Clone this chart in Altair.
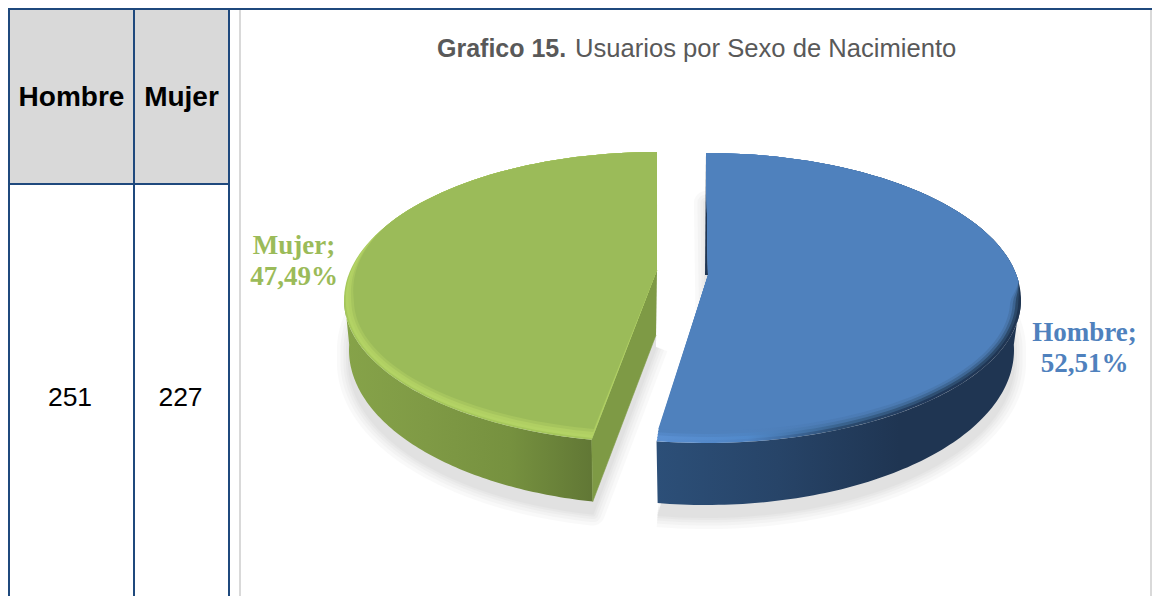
import numpy as np
import pandas as pd
import altair as alt

categories = ["Hombre", "Mujer"]
counts = [251, 227]
shares = [52.51, 47.49]
chart_title = ["Grafico 15.", "Usuarios por Sexo de Nacimiento"]

W, H = 1144, 588
X_SCALE = alt.Scale(domain=[8, 8 + W], range=[0, W])
Y_SCALE = alt.Scale(domain=[8, 8 + H], range=[0, H])
BLUE, GREEN = "#4F81BD", "#9BBB59"
DARK = "#1F497D"


def grad(*stops):
    n = len(stops) - 1
    return alt.Gradient(
        gradient="linear", x1=0, x2=1, y1=0, y2=0,
        stops=[alt.GradientStop(offset=i / n, color=c) for i, c in enumerate(stops)],
    )


def arc(ex, ey, a, b_up, b_low, t0, t1, inset=0, start=0.45):
    t = np.radians(np.linspace(t0, t1, 90))
    c, s = np.cos(t), np.sin(t)
    taper = np.clip((-c + start) / max(start, 0.01), 0, 1) if inset else np.zeros_like(c)
    xs = ex + (a - inset * 0.9 * taper) * s
    ys = ey + np.where(c > 0, -b_up * c, (b_low - inset * taper) * (-c))
    return list(zip(xs, ys))


def poly(points, **mark):
    df = pd.DataFrame(points, columns=["x", "y"]).reset_index()
    mark.setdefault("strokeWidth", 0)
    return alt.Chart(df).mark_line(**mark).encode(
        x=alt.X("x:Q", scale=X_SCALE, axis=None),
        y=alt.Y("y:Q", scale=Y_SCALE, axis=None),
        order="index:Q",
    )


blue_end = shares[0] / 100 * 360
green_start = blue_end + 3

blue_apex, green_apex = (708, 275), (657, 270)
blue_top = dict(ex=706, ey=300, a=315, b_up=147, b_low=143)
green_top = dict(ex=657, ey=300, a=313, b_up=148, b_low=143)
blue_bot = dict(ex=706, ey=350, a=308, b_up=147, b_low=155)
green_bot = dict(ex=657, ey=350, a=308, b_up=147, b_low=155)
DROP = 12

layers = []
for width in [24, 17, 11, 6, 2]:
    for apex, bot, t0, t1 in [
        ((708, 335), blue_bot, 0, blue_end),
        ((656, 335), green_bot, green_start, 360),
    ]:
        pts = [(apex[0], apex[1] + DROP)] + [
            (x, y + (DROP if y > 350 else 0)) for x, y in arc(t0=t0, t1=t1, **bot)
        ]
        layers.append(poly(pts, fill="#000000", stroke="#000000", strokeWidth=width,
                           strokeJoin="round", opacity=0.02))

layers.append(poly(
    arc(t0=green_start, t1=272, **green_top) + arc(t0=272, t1=green_start, **green_bot),
    fill=grad("#86A349", "#7F9A45", "#76913F", "#617735"),
))
layers.append(poly(
    arc(t0=88, t1=blue_end, **blue_top) + arc(t0=blue_end, t1=88, **blue_bot),
    fill=grad("#2C4F78", "#274468", "#1F3552", "#1F3552"),
))

grim = arc(t0=green_start, t1=green_start, **green_top)[0]
gbot = arc(t0=green_start, t1=green_start, **green_bot)[0]
layers.append(poly([green_apex, grim, gbot, (656, 335)], fill="#7E9A45",
                   stroke="#7E9A45", strokeWidth=0.6))
layers.append(poly([(706, 153), (708, 275), (705, 275)], fill="#1F3552"))

blue_bands = [
    (0, grad("#5B90D2", "#4F84C4", "#2C4C70", "#20385A", "#1F3552")),
    (3, grad("#5B90D2", "#5189CA", "#3A6490", "#2F5074", "#2B4868")),
    (6, grad("#5488C8", "#4F84C2", "#4674A8", "#3F6998", "#3C6390")),
    (9, grad("#4F81BD", "#4F81BD", "#4C7CB6", "#4A79B0", "#4976AC")),
]
for inset, fill in blue_bands:
    layers.append(poly([blue_apex] + arc(t0=0, t1=blue_end, inset=inset, start=0.12, **blue_top),
                       fill=fill))
layers.append(poly([blue_apex] + arc(t0=0, t1=blue_end, inset=12, start=0.12, **blue_top), fill=BLUE))

green_bands = [(0, "#A6C85C"), (2, "#B3D365"), (5, "#B0CF63"), (8, "#A6C55E")]
for inset, color in green_bands:
    layers.append(poly([green_apex] + arc(t0=green_start, t1=360, inset=inset, start=0.5, **green_top),
                       fill=color))
layers.append(poly([green_apex] + arc(t0=green_start, t1=360, inset=11, start=0.5, **green_top), fill=GREEN))


def box(x0, x1, y0, y1, color):
    return alt.Chart(pd.DataFrame({"k": [0]})).mark_rect(color=color).encode(
        x=alt.value(x0 - 8), x2=alt.value(x1 - 8), y=alt.value(y0 - 8), y2=alt.value(y1 - 8)
    )


BOTTOM = 8 + H
RIGHT = 8 + W
table = [
    box(10, 228, 10, 183, "#D9D9D9"),
    box(8, 10, 8, BOTTOM, DARK),
    box(133, 135, 8, BOTTOM, DARK),
    box(228, 230, 8, BOTTOM, DARK),
    box(8, 230, 183, 185, DARK),
    box(8, RIGHT, 8, 10, DARK),
    box(239, 241, 10, BOTTOM, "#D9D9D9"),
    box(1150, 1152, 10, BOTTOM, "#D9D9D9"),
]


def text(s, x, y, size, color, bold=False, align="center", font="Liberation Sans", lh=None):
    mark = dict(fontSize=size, font=font, color=color, align=align, baseline="alphabetic",
                fontWeight="bold" if bold else "normal")
    if lh:
        mark.update(lineHeight=lh, lineBreak="\n")
    return alt.Chart(pd.DataFrame({"t": [s]})).mark_text(**mark).encode(
        text="t:N", x=alt.value(x - 8), y=alt.value(y - 8)
    )


def share_label(name, v):
    return f"{name};\n{v:.2f}%".replace(".", ",")


texts = [
    text(categories[0], 71.5, 106, 28, "#000000", bold=True),
    text(categories[1], 181.5, 106, 28, "#000000", bold=True),
    text(str(counts[0]), 70, 406, 26.5, "#000000"),
    text(str(counts[1]), 180.5, 406, 26.5, "#000000"),
    text(chart_title[0], 437, 57, 25, "#595959", bold=True, align="left"),
    text(chart_title[1], 575, 57, 25.6, "#595959", align="left"),
    text(share_label(categories[1], shares[1]), 294, 254, 27, GREEN, bold=True,
         font="Liberation Serif", lh=31),
    text(share_label(categories[0], shares[0]), 1084.5, 341, 27, BLUE, bold=True,
         font="Liberation Serif", lh=31),
]

chart = alt.layer(*table, *layers, *texts).properties(
    width=W, height=H, padding=0, autosize=alt.AutoSizeParams(type="none"),
).configure_view(stroke=None)

chart.save("out.html", embed_options={"renderer": "svg", "actions": False})
